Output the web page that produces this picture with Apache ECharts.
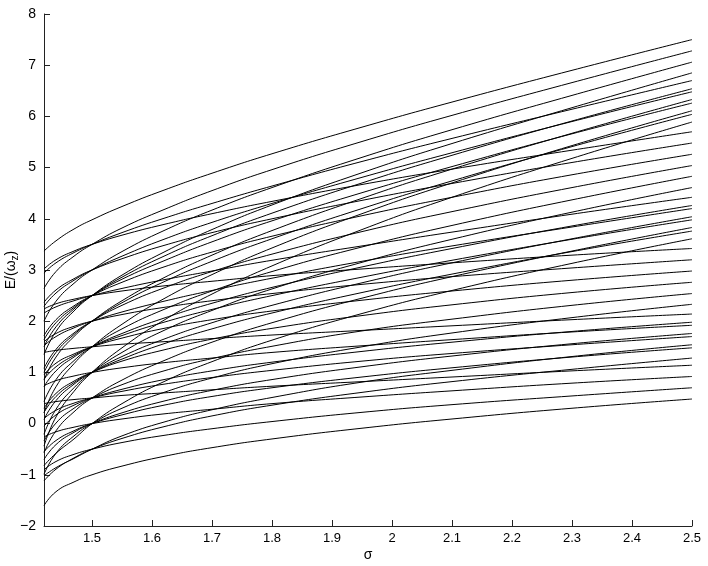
<!DOCTYPE html>
<html>
<head>
<meta charset="utf-8">
<script src="https://cdn.jsdelivr.net/npm/echarts@6/dist/echarts.min.js"></script>
<style>
  html, body { margin: 0; padding: 0; background: #fff; }
  #chart { width: 708px; height: 566px; }
</style>
</head>
<body>
<div id="chart"></div>
<script>
// sample points along the sigma axis
const sigma = [1.42, 1.44, 1.47, 1.5, 1.55, 1.62, 1.7, 1.8, 1.95, 2.1, 2.3, 2.5];

// energy levels, grouped by the family they fan out of
const familyA = [
  [0.39, 0.43, 0.47, 0.50, 0.55, 0.60, 0.66, 0.73, 0.82, 0.91, 1.03, 1.14],
  [-0.26, -0.16, -0.07, 0.00, 0.09, 0.19, 0.28, 0.39, 0.52, 0.64, 0.79, 0.92],
  [-0.90, -0.74, -0.60, -0.50, -0.37, -0.23, -0.10, 0.04, 0.22, 0.37, 0.54, 0.70],
  [-1.60, -1.33, -1.14, -1.00, -0.83, -0.64, -0.47, -0.30, -0.09, 0.09, 0.30, 0.48]
];
const familyB = [
  [1.39, 1.43, 1.47, 1.50, 1.55, 1.60, 1.66, 1.73, 1.82, 1.91, 2.03, 2.14],
  [0.74, 0.84, 0.93, 1.00, 1.09, 1.19, 1.28, 1.39, 1.52, 1.64, 1.79, 1.92],
  [0.10, 0.26, 0.40, 0.50, 0.63, 0.77, 0.90, 1.04, 1.22, 1.37, 1.54, 1.70],
  [-0.55, -0.33, -0.14, 0.00, 0.17, 0.36, 0.53, 0.70, 0.91, 1.09, 1.30, 1.48],
  [-1.12, -0.89, -0.67, -0.50, -0.29, -0.06, 0.15, 0.36, 0.61, 0.82, 1.06, 1.28]
];
const familyC = [
  [-0.05, 0.17, 0.36, 0.50, 0.67, 0.86, 1.03, 1.20, 1.41, 1.59, 1.80, 1.98],
  [-0.70, -0.41, -0.17, 0.00, 0.21, 0.44, 0.65, 0.86, 1.11, 1.32, 1.56, 1.76],
  [-1.02, -0.86, -0.68, -0.50, -0.24, 0.03, 0.27, 0.51, 0.81, 1.04, 1.31, 1.54]
];
const familyD = [
  [2.24, 2.34, 2.43, 2.50, 2.59, 2.69, 2.78, 2.89, 3.02, 3.14, 3.29, 3.42],
  [1.60, 1.76, 1.90, 2.00, 2.13, 2.27, 2.40, 2.54, 2.72, 2.87, 3.04, 3.20],
  [0.95, 1.18, 1.36, 1.50, 1.67, 1.86, 2.03, 2.20, 2.41, 2.59, 2.80, 2.98],
  [0.30, 0.59, 0.83, 1.00, 1.22, 1.44, 1.65, 1.86, 2.11, 2.32, 2.56, 2.76],
  [-0.34, 0.01, 0.30, 0.50, 0.76, 1.03, 1.27, 1.51, 1.81, 2.04, 2.31, 2.54],
  [-0.99, -0.58, -0.24, 0.00, 0.30, 0.61, 0.89, 1.17, 1.50, 1.77, 2.07, 2.33]
];
const familyE = [
  [2.16, 2.28, 2.40, 2.50, 2.64, 2.81, 2.98, 3.19, 3.47, 3.74, 4.09, 4.42],
  [1.52, 1.70, 1.87, 2.00, 2.18, 2.39, 2.60, 2.84, 3.17, 3.47, 3.84, 4.20],
  [0.87, 1.11, 1.33, 1.50, 1.72, 1.98, 2.23, 2.50, 2.86, 3.19, 3.60, 3.98],
  [0.22, 0.53, 0.80, 1.00, 1.26, 1.56, 1.85, 2.16, 2.56, 2.92, 3.36, 3.76]
];
const familyF = [
  [0.72, 1.03, 1.30, 1.50, 1.76, 2.06, 2.35, 2.66, 3.06, 3.42, 3.86, 4.26],
  [0.08, 0.45, 0.77, 1.00, 1.31, 1.65, 1.97, 2.31, 2.75, 3.14, 3.61, 4.04],
  [-0.57, -0.14, 0.23, 0.50, 0.85, 1.23, 1.59, 1.97, 2.45, 2.87, 3.37, 3.83],
  [-0.82, -0.58, -0.30, 0.00, 0.39, 0.82, 1.21, 1.63, 2.15, 2.60, 3.13, 3.61]
];
const familyG = [
  [3.02, 3.20, 3.37, 3.50, 3.68, 3.89, 4.10, 4.34, 4.67, 4.97, 5.34, 5.70],
  [2.37, 2.61, 2.83, 3.00, 3.22, 3.48, 3.73, 4.00, 4.36, 4.69, 5.10, 5.48],
  [1.72, 2.03, 2.30, 2.50, 2.76, 3.06, 3.35, 3.66, 4.06, 4.42, 4.86, 5.26],
  [1.08, 1.45, 1.77, 2.00, 2.31, 2.65, 2.97, 3.31, 3.75, 4.14, 4.61, 5.04],
  [0.43, 0.86, 1.23, 1.50, 1.85, 2.23, 2.59, 2.97, 3.45, 3.87, 4.37, 4.83],
  [-0.21, 0.28, 0.70, 1.00, 1.39, 1.82, 2.21, 2.63, 3.15, 3.60, 4.13, 4.61]
];
const familyH = [
  [2.94, 3.14, 3.34, 3.50, 3.73, 4.01, 4.30, 4.64, 5.12, 5.57, 6.14, 6.70],
  [2.29, 2.55, 2.80, 3.00, 3.27, 3.60, 3.93, 4.30, 4.81, 5.29, 5.90, 6.48],
  [1.64, 1.97, 2.27, 2.50, 2.82, 3.18, 3.55, 3.96, 4.51, 5.02, 5.66, 6.26],
  [1.00, 1.39, 1.74, 2.00, 2.36, 2.77, 3.17, 3.61, 4.20, 4.74, 5.41, 6.04]
];
const familyI = [
  [1.50, 1.89, 2.24, 2.50, 2.86, 3.27, 3.67, 4.11, 4.70, 5.24, 5.91, 6.54],
  [0.85, 1.30, 1.70, 2.00, 2.40, 2.85, 3.29, 3.77, 4.40, 4.97, 5.67, 6.33],
  [0.21, 0.72, 1.17, 1.50, 1.94, 2.44, 2.91, 3.43, 4.10, 4.70, 5.43, 6.11],
  [-0.44, 0.13, 0.63, 1.00, 1.48, 2.02, 2.53, 3.08, 3.79, 4.42, 5.18, 5.89]
];
const familyJ = [
  [3.37, 3.57, 3.80, 3.98, 4.24, 4.56, 4.89, 5.27, 5.79, 6.28, 6.90, 7.50],
  [2.64, 2.97, 3.27, 3.50, 3.82, 4.18, 4.55, 4.96, 5.51, 6.02, 6.66, 7.28],
  [2.00, 2.39, 2.74, 3.00, 3.36, 3.77, 4.17, 4.61, 5.20, 5.74, 6.41, 7.06],
  [1.35, 1.80, 2.20, 2.50, 2.90, 3.35, 3.79, 4.27, 4.90, 5.47, 6.17, 6.85]
];

const xTicks = [1.5, 1.6, 1.7, 1.8, 1.9, 2, 2.1, 2.2, 2.3, 2.4, 2.5];

const levels = [].concat(familyA, familyB, familyC, familyD, familyE,
                         familyF, familyG, familyH, familyI, familyJ);

const series = levels.map(function (vals) {
  return {
    type: 'line',
    data: vals.map(function (v, i) { return [sigma[i], v]; }),
    showSymbol: false,
    smooth: true,
    clip: true,
    silent: true,
    lineStyle: { color: '#000', width: 1 }
  };
});

const font = 'Liberation Sans, Arial, Helvetica, sans-serif';

const option = {
  animation: false,
  backgroundColor: '#fff',
  grid: { left: 44, right: 16, top: 14, bottom: 40, containLabel: false, outerBoundsMode: 'none' },
  xAxis: {
    type: 'value',
    min: 1.42,
    max: 2.5,
    name: 'σ',
    nameLocation: 'middle',
    nameGap: 22,
    nameMoveOverlap: false,
    nameTextStyle: { color: '#000', fontSize: 14, fontFamily: font },
    axisLine: { onZero: false, lineStyle: { color: '#222', width: 1 } },
    axisTick: { inside: true, length: 6, customValues: xTicks, lineStyle: { color: '#222' } },
    axisLabel: {
      customValues: xTicks,
      color: '#000', fontSize: 13, fontFamily: font, margin: 6,
      formatter: function (v) { return String(Math.round(v * 10) / 10); }
    },
    splitLine: { show: false }
  },
  yAxis: {
    type: 'value',
    min: -2,
    max: 8,
    interval: 1,
    name: '{a|E/(ω}{s|z}{a|)}',
    nameLocation: 'middle',
    nameGap: 24,
    nameRotate: 90,
    nameMoveOverlap: false,
    nameTextStyle: {
      rich: {
        a: { color: '#000', fontSize: 14, fontFamily: font },
        s: { color: '#000', fontSize: 10, fontFamily: font, padding: [8, 0, 0, 0] }
      }
    },
    axisLine: { show: true, onZero: false, lineStyle: { color: '#222', width: 1 } },
    axisTick: { show: true, inside: true, length: 6, lineStyle: { color: '#222' } },
    axisLabel: {
      color: '#000', fontSize: 14, fontFamily: font, margin: 8,
      formatter: function (v) { return String(v).replace('-', '\u2212'); }
    },
    splitLine: { show: false }
  },
  series: series
};

const chart = echarts.init(document.getElementById('chart'), null, { renderer: 'canvas' });
chart.setOption(option);
window.addEventListener('resize', function () { chart.resize(); });
</script>
</body>
</html>
